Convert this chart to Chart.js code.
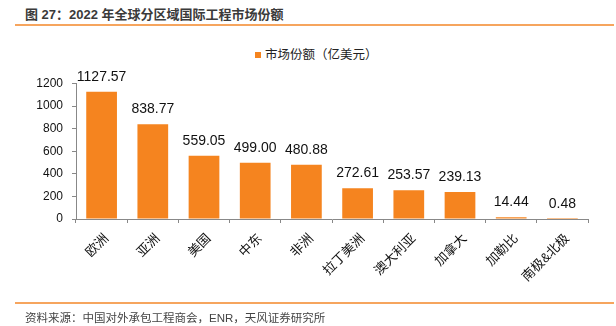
<!DOCTYPE html>
<html><head><meta charset="utf-8">
<script src="https://cdn.jsdelivr.net/npm/chart.js@4/dist/chart.umd.min.js"></script>
<style>
html,body{margin:0;padding:0;background:#fff;width:616px;height:326px;overflow:hidden;}
#wrap{position:relative;width:616px;height:326px;}
canvas{position:absolute;left:0;top:0;}
.title{position:absolute;left:25px;top:4px;font:bold 13px "Liberation Sans","Noto Sans CJK SC",sans-serif;color:#3a3a3a;white-space:nowrap;}
.line{position:absolute;left:15px;width:599px;height:2px;background:#F6A55E;}
.src{position:absolute;left:25px;top:309px;font:11.5px "Liberation Sans","Noto Sans CJK SC",sans-serif;color:#444;white-space:nowrap;}
.legend{position:absolute;left:255px;top:44px;font:12.5px "Liberation Sans","Noto Sans CJK SC",sans-serif;color:#222;white-space:nowrap;}
.legend i{display:inline-block;width:6px;height:6px;background:#F5841F;margin-right:4px;vertical-align:1px;}
</style></head>
<body><div id="wrap">
<div class="title">图 27：2022 年全球分区域国际工程市场份额</div>
<div class="line" style="top:24px"></div>
<div class="legend"><i></i>市场份额（亿美元）</div>
<canvas id="c" width="616" height="326"></canvas>
<div class="line" style="top:302px"></div>
<div class="src">资料来源：中国对外承包工程商会，ENR，天风证券研究所</div>
</div>
<script>
const categories = ["欧洲","亚洲","美国","中东","非洲","拉丁美洲","澳大利亚","加拿大","加勒比","南极&北极"];
const seriesName = "市场份额（亿美元）";
const values = [1127.57, 838.77, 559.05, 499.00, 480.88, 272.61, 253.57, 239.13, 14.44, 0.48];
const yTicks = [0, 200, 400, 600, 800, 1000, 1200];

const FONT = '"Liberation Sans","Noto Sans CJK SC",sans-serif';

const labelPlugin = {
  id: 'valLabels',
  afterDatasetsDraw(chart) {
    const ctx = chart.ctx;
    const meta = chart.getDatasetMeta(0);
    ctx.save();
    ctx.font = '14px ' + FONT;
    ctx.fillStyle = '#111';
    ctx.textAlign = 'center';
    ctx.textBaseline = 'middle';
    meta.data.forEach((bar, i) => {
      ctx.fillText(values[i].toFixed(2), bar.x, bar.y - 15);
    });
    ctx.restore();
  }
};

new Chart(document.getElementById('c'), {
  type: 'bar',
  data: {
    labels: categories,
    datasets: [{
      label: seriesName,
      data: values,
      backgroundColor: '#F5841F',
      borderWidth: 0,
      categoryPercentage: 0.6,
      barPercentage: 1.0
    }]
  },
  options: {
    responsive: false,
    animation: false,
    devicePixelRatio: 1,
    layout: { padding: { left: 0, right: 28, top: 83.5, bottom: 27 } },
    plugins: { legend: { display: false }, tooltip: { enabled: false }, title: { display: false } },
    scales: {
      x: {
        offset: true,
        grid: { display: true, offset: true, drawOnChartArea: false, drawTicks: true, tickLength: 4, color: '#888' },
        border: { display: true, color: '#888', width: 1 },
        ticks: { maxRotation: 45, minRotation: 45, autoSkip: false, padding: 8, labelOffset: 5, color: '#111', font: { size: 13, family: FONT } },
        afterFit(s) { s.height = 80; }
      },
      y: {
        min: 0, max: 1200,
        afterBuildTicks(s) { s.ticks = yTicks.map(v => ({ value: v })); },
        grid: { display: true, drawOnChartArea: false, drawTicks: true, tickLength: 4, color: '#888' },
        border: { display: true, color: '#888', width: 1 },
        ticks: { padding: 9, color: '#111', font: { size: 12, family: FONT }, callback: v => String(v) },
        afterFit(s) { s.width = 76; }
      }
    }
  },
  plugins: [labelPlugin]
});
</script>
</body></html>
